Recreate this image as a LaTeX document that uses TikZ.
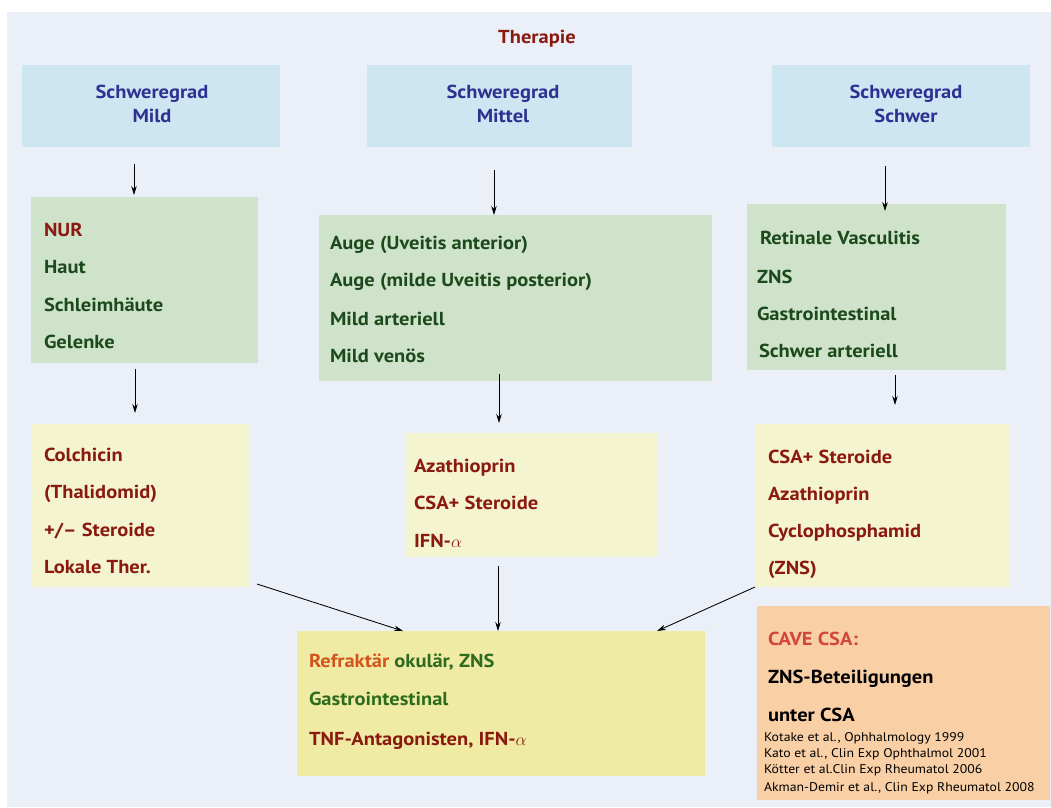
\documentclass[tikz,border=0pt]{standalone}
\usepackage{fontspec}
\setmainfont{PT Sans}[FakeStretch=1.09]
\usetikzlibrary{arrows.meta,calc}
\definecolor{bgc}{HTML}{EBF0F8}
\definecolor{bluec}{HTML}{CEE6F1}
\definecolor{greenc}{HTML}{CFE3CB}
\definecolor{lyellc}{HTML}{F5F4D0}
\definecolor{dyellc}{HTML}{F0EBA4}
\definecolor{orangec}{HTML}{F9CFA6}
\definecolor{bluet}{HTML}{2E3192}
\definecolor{redt}{HTML}{8A1A10}
\definecolor{greent}{HTML}{1C4A1C}
\definecolor{mgreent}{HTML}{2E6B1E}
\definecolor{refrt}{HTML}{D4541E}
\definecolor{cavet}{HTML}{D2473D}
\newcommand{\mf}{\fontsize{18.8}{22}\selectfont\bfseries}
\newcommand{\rf}{\fontsize{12.6}{15}\selectfont}
\begin{document}
\begin{tikzpicture}[x=1pt,y=-1pt,
  box/.style={rectangle,inner sep=0pt,outer sep=0pt,draw=none},
  t/.style={anchor=base west,inner sep=0pt,outer sep=0pt,font=\mf},
  tc/.style={anchor=base,inner sep=0pt,outer sep=0pt,font=\mf,text=bluet},
  rt/.style={anchor=base west,inner sep=0pt,outer sep=0pt,font=\rf,text=black},
  arr/.style={-{Stealth[length=9pt,width=5.5pt]},line width=0.85pt,black}]
\path[use as bounding box] (0,0) rectangle (1051,807);
\fill[white] (0,0) rectangle (1051,807);
\node[box,fill=bgc,minimum width=1044pt,minimum height=795pt] (bg) at (529,409.5) {};
% title
\node[anchor=base,inner sep=0pt,font=\mf,text=redt] (title) at (537,43.5) {Therapie};
% blue boxes
\node[box,fill=bluec,minimum width=258pt,minimum height=82pt] (b1) at (151,106) {};
\node[box,fill=bluec,minimum width=265pt,minimum height=82pt] (b2) at (499.5,106) {};
\node[box,fill=bluec,minimum width=258pt,minimum height=82pt] (b3) at (901,106) {};
\node[tc] (b1a) at (152,98.5) {Schweregrad};
\node[tc] (b1b) at (152,122.5) {Mild};
\node[tc] (b2a) at (503,98.5) {Schweregrad};
\node[tc] (b2b) at (503,122.5) {Mittel};
\node[tc] (b3a) at (906,98.5) {Schweregrad};
\node[tc] (b3b) at (906,122.5) {Schwer};
% green boxes
\node[box,fill=greenc,minimum width=227pt,minimum height=166pt] (g1) at (144.5,280) {};
\node[box,fill=greenc,minimum width=393pt,minimum height=166pt] (g2) at (515.5,298) {};
\node[box,fill=greenc,minimum width=259pt,minimum height=166pt] (g3) at (876.5,287) {};
\node[t,text=redt] (g1a) at (44,236) {NUR};
\node[t,text=greent] (g1b) at (44,273) {Haut};
\node[t,text=greent] (g1c) at (44,311) {Schleimhäute};
\node[t,text=greent] (g1d) at (44,348) {Gelenke};
\node[t,text=greent] (g2a) at (330,249) {Auge (Uveitis anterior)};
\node[t,text=greent] (g2b) at (330,286) {Auge (milde Uveitis posterior)};
\node[t,text=greent] (g2c) at (330,325) {Mild arteriell};
\node[t,text=greent] (g2d) at (330,362) {Mild venös};
\node[t,text=greent] (g3a) at (760,244) {Retinale Vasculitis};
\node[t,text=greent] (g3b) at (757,283) {ZNS};
\node[t,text=greent] (g3c) at (757,320) {Gastrointestinal};
\node[t,text=greent] (g3d) at (759,357) {Schwer arteriell};
% light yellow boxes
\node[box,fill=lyellc,minimum width=218pt,minimum height=163pt] (y1) at (141,505.5) {};
\node[box,fill=lyellc,minimum width=252pt,minimum height=124pt] (y2) at (531,495) {};
\node[box,fill=lyellc,minimum width=255pt,minimum height=163pt] (y3) at (882.5,505.5) {};
\node[t,text=redt] (y1a) at (44,461) {Colchicin};
\node[t,text=redt] (y1b) at (44,498) {(Thalidomid)};
\node[t,text=redt] (y1c) at (44,536) {+/– Steroide};
\node[t,text=redt] (y1d) at (44,573) {Lokale Ther.};
\node[t,text=redt] (y2a) at (414,472) {Azathioprin};
\node[t,text=redt] (y2b) at (414,509) {CSA+ Steroide};
\node[t,text=redt] (y2c) at (414,547) {IFN-$\alpha$};
\node[t,text=redt] (y3a) at (768,463) {CSA+ Steroide};
\node[t,text=redt] (y3b) at (768,500) {Azathioprin};
\node[t,text=redt] (y3c) at (768,537) {Cyclophosphamid};
\node[t,text=redt] (y3d) at (768,574) {(ZNS)};
% bottom box
\node[box,fill=dyellc,minimum width=408pt,minimum height=145pt] (bt) at (501,703.5) {};
\node[t,text=mgreent] (bta) at (309,667) {\textcolor{refrt}{Refraktär} okulär, ZNS};
\node[t,text=mgreent] (btb) at (309,705) {Gastrointestinal};
\node[t,text=redt] (btc) at (309,745) {TNF-Antagonisten, IFN-$\alpha$};
% orange box
\node[box,fill=orangec,minimum width=293pt,minimum height=194pt] (or) at (903.5,703) {};
\node[t,text=cavet] (ora) at (768,645) {CAVE CSA:};
\node[t,text=black] (orb) at (768,683) {ZNS-Beteiligungen};
\node[t,text=black] (orc) at (768,721) {unter CSA};
\node[rt] (r1) at (764,741) {Kotake et al., Ophhalmology 1999};
\node[rt] (r2) at (764,757) {Kato et al., Clin Exp Ophthalmol 2001};
\node[rt] (r3) at (764,773) {Kötter et al.Clin Exp Rheumatol 2006};
\node[rt] (r4) at (764,791) {Akman-Demir et al., Clin Exp Rheumatol 2008};
% arrows
\draw[arr,shorten <=17pt] ($(b1.south)+(-17,0)$) -- ($(g1.north)+(-10.5,-2)$);
\draw[arr,shorten <=23pt] ($(b2.south)+(-5.5,0)$) -- ($(g2.north)+(-21.5,0)$);
\draw[arr,shorten <=19pt] ($(b3.south)+(-16,0)$) -- ($(g3.north)+(8.5,7)$);
\draw[arr] ($(g1.south)+(-9.5,6)$) -- ($(y1.north)+(-6,-11)$);
\draw[arr] ($(g2.south)+(-16.5,-7)$) -- ($(y2.north)+(-32,-10)$);
\draw[arr] ($(g3.south)+(18.5,5)$) -- ($(y3.north)+(12.5,-19)$);
\draw[arr] ($(y1.south east)+(7,-3)$) -- ($(bt.north)+(-98,0)$);
\draw[arr] ($(y2.south)+(-33,9)$) -- ($(bt.north)+(-3,0)$);
\draw[arr] (y3.south west) -- ($(bt.north)+(156,0)$);
\end{tikzpicture}
\end{document}
